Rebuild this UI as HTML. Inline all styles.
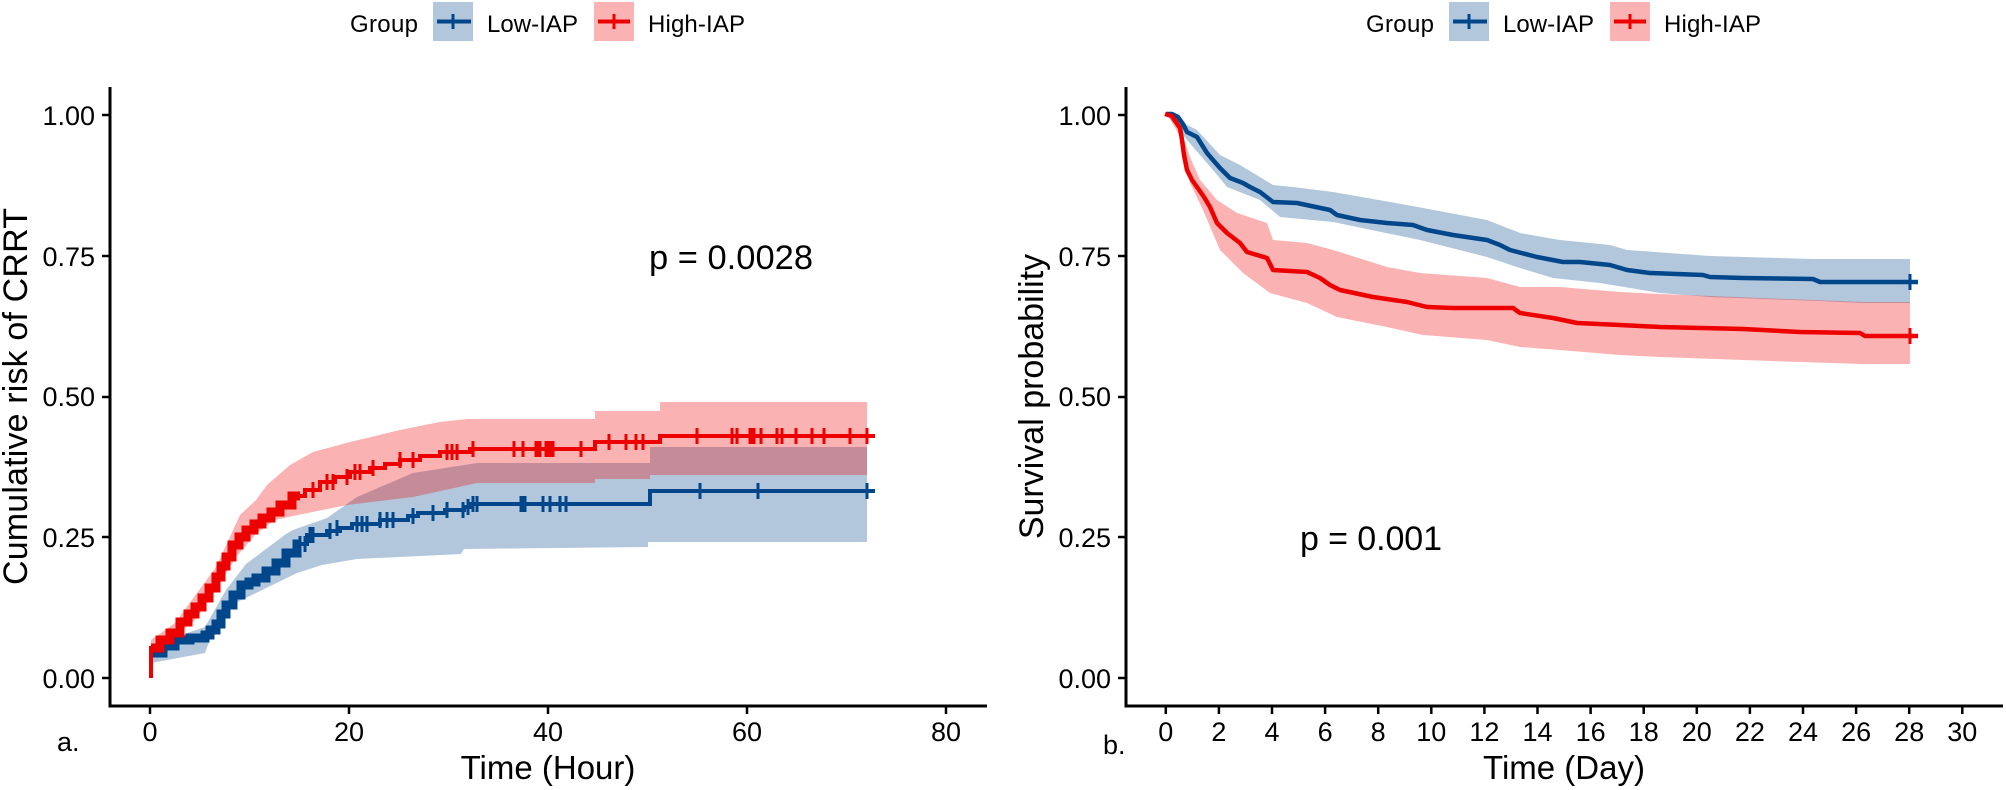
<!DOCTYPE html>
<html>
<head>
<meta charset="utf-8">
<style>
html,body{margin:0;padding:0;background:#fff;}
svg{display:block;}
text{font-family:"Liberation Sans",Arial,sans-serif;fill:#000;}
</style>
</head>
<body>
<svg width="2006" height="790" viewBox="0 0 2006 790" xmlns="http://www.w3.org/2000/svg">
<rect width="2006" height="790" fill="#fff"/>

<!-- ================= LEFT PANEL ================= -->
<!-- Legend -->
<g>
  <text x="350" y="32" font-size="24" textLength="68">Group</text>
  <rect x="433" y="2" width="40" height="39" fill="#00468B" fill-opacity="0.3"/>
  <line x1="437" y1="21.5" x2="471" y2="21.5" stroke="#00468B" stroke-width="4"/>
  <line x1="453" y1="14" x2="453" y2="29" stroke="#00468B" stroke-width="3"/>
  <text x="487" y="32" font-size="24" textLength="91">Low-IAP</text>
  <rect x="594" y="2" width="40" height="39" fill="#ED0000" fill-opacity="0.3"/>
  <line x1="598" y1="21.5" x2="630" y2="21.5" stroke="#ED0000" stroke-width="4"/>
  <line x1="614" y1="14" x2="614" y2="29" stroke="#ED0000" stroke-width="3"/>
  <text x="648" y="32" font-size="24" textLength="97">High-IAP</text>
</g>

<!-- ribbons -->
<polygon fill="#00468B" fill-opacity="0.3" points="151,645 205,627 226,590 246,564 286,534 293,530 327,518 357,497 413,473 477,463 650,463 650,447 867,447 867,542 648,542 648,547 464,549 461,554 357,559 322,565 297,573 256,593 221,610 205,653 151,663"/>
<polygon fill="#ED0000" fill-opacity="0.3" points="151,640 175,623 216,567 240,515 256,500 267,485 290,465 313,452 350,442 400,430 440,422 467,419 595,419 595,411 660,411 660,402 867,402 867,475 650,475 650,479 595,479 595,483 477,483 413,497 347,505 293,516 275,520 256,534 236,557 216,590 195,620 151,656"/>

<!-- lines -->
<path fill="none" stroke="#00468B" stroke-width="4" d="M151,660 V653 H163 V646 H175 V640 H190 V638 H205 V635 H210 V630 H216 V624 H221 V614 H226 V605 H233 V595 H241 V585 H249 V582 H256 V578 H266 V571 H276 V563 H286 V553 H297 V544 H307 V535 H327 V531 H340 V528 H352 V524 H380 V520 H408 V516 H418 V513 H445 V510 H464 V507 H470 V504 H650 V491 H875"/>
<path fill="none" stroke="#00468B" stroke-width="9" d="M151,653 H163 V646 H175 V640 H190 V638 H205 V635 H210 V630 H216 V624 H221 V614 H226 V605 H233 V595 H241 V585 H249 V582 H256 V578 H266 V571 H276 V563 H286 V553 H297 V544 H300"/>
<path fill="none" stroke="#ED0000" stroke-width="4" d="M151,678 V648 H160 V640 H170 V633 H180 V622 H188 V614 H195 V607 H202 V598 H209 V588 H216 V577 H221 V566 H226 V557 H232 V545 H239 V537 H246 V530 H254 V524 H262 V518 H271 V512 H280 V505 H292 V496 H305 V490 H320 V482 H335 V477 H350 V472 H370 V468 H385 V464 H400 V460 H420 V456 H440 V452 H470 V449 H595 V442 H660 V436 H875"/>
<path fill="none" stroke="#ED0000" stroke-width="9" d="M151,648 H160 V640 H170 V633 H180 V622 H188 V614 H195 V607 H202 V598 H209 V588 H216 V577 H221 V566 H226 V557 H232 V545 H239 V537 H246 V530 H254 V524 H262 V518 H271 V512 H280 V505 H292 V496 H300"/>

<!-- censor marks blue -->
<path fill="none" stroke="#00468B" stroke-width="3" d="
M300,536V552 M305,536V552 M310,527V543 M313,527V543 M330,523V539 M337,520V536 M357,516V532 M362,516V532 M367,516V532
M380,512V528 M387,512V528 M393,512V528 M413,508V524 M433,505V521 M447,502V518 M463,502V518 M468,499V515 M473,496V512 M477,496V512
M521,496V512 M523,496V512 M525,496V512 M543,496V512 M550,496V512 M560,496V512 M566,496V512
M700,483V499 M758,483V499 M867,483V499"/>
<!-- censor marks red -->
<path fill="none" stroke="#ED0000" stroke-width="3" d="
M313,482V498 M327,474V490 M333,474V490 M347,469V485 M355,464V480 M360,464V480 M373,460V476 M400,452V468 M413,452V468
M447,444V460 M452,444V460 M457,444V460 M473,441V457
M514,441V457 M523,441V457 M536,441V457 M538,441V457 M540,441V457 M546,441V457 M549,441V457 M551,441V457 M553,441V457 M581,441V457
M609,434V450 M626,434V450 M636,434V450 M643,434V450
M697,428V444 M732,428V444 M737,428V444 M750,428V444 M752,428V444 M754,428V444 M761,428V444 M777,428V444 M782,428V444 M796,428V444 M812,428V444 M824,428V444 M850,428V444 M867,428V444"/>

<!-- axes -->
<line x1="110" y1="87" x2="110" y2="707.5" stroke="#000" stroke-width="3"/>
<line x1="108.5" y1="706" x2="987" y2="706" stroke="#000" stroke-width="3"/>
<g stroke="#000" stroke-width="2.5">
  <line x1="102" y1="115" x2="110" y2="115"/>
  <line x1="102" y1="256" x2="110" y2="256"/>
  <line x1="102" y1="397" x2="110" y2="397"/>
  <line x1="102" y1="537" x2="110" y2="537"/>
  <line x1="102" y1="678" x2="110" y2="678"/>
  <line x1="150" y1="706" x2="150" y2="714"/>
  <line x1="349" y1="706" x2="349" y2="714"/>
  <line x1="548" y1="706" x2="548" y2="714"/>
  <line x1="747" y1="706" x2="747" y2="714"/>
  <line x1="946" y1="706" x2="946" y2="714"/>
</g>
<g font-size="27" text-anchor="end">
  <text x="95" y="125">1.00</text>
  <text x="95" y="266">0.75</text>
  <text x="95" y="406">0.50</text>
  <text x="95" y="547">0.25</text>
  <text x="95" y="688">0.00</text>
</g>
<g font-size="27" text-anchor="middle">
  <text x="150" y="741">0</text>
  <text x="349" y="741">20</text>
  <text x="548" y="741">40</text>
  <text x="747" y="741">60</text>
  <text x="946" y="741">80</text>
</g>
<text x="57" y="751" font-size="27">a.</text>
<text x="548" y="779" font-size="33" text-anchor="middle">Time (Hour)</text>
<text transform="translate(27,396.5) rotate(-90)" font-size="34" text-anchor="middle" textLength="377">Cumulative risk of CRRT</text>
<text x="649" y="269" font-size="34.5" textLength="164">p = 0.0028</text>

<!-- ================= RIGHT PANEL ================= -->
<g>
  <text x="1366" y="32" font-size="24" textLength="68">Group</text>
  <rect x="1449" y="2" width="40" height="39" fill="#00468B" fill-opacity="0.3"/>
  <line x1="1453" y1="21.5" x2="1487" y2="21.5" stroke="#00468B" stroke-width="4"/>
  <line x1="1469" y1="14" x2="1469" y2="29" stroke="#00468B" stroke-width="3"/>
  <text x="1503" y="32" font-size="24" textLength="91">Low-IAP</text>
  <rect x="1610" y="2" width="40" height="39" fill="#ED0000" fill-opacity="0.3"/>
  <line x1="1614" y1="21.5" x2="1646" y2="21.5" stroke="#ED0000" stroke-width="4"/>
  <line x1="1630" y1="14" x2="1630" y2="29" stroke="#ED0000" stroke-width="3"/>
  <text x="1664" y="32" font-size="24" textLength="97">High-IAP</text>
</g>

<!-- ribbons -->
<polygon fill="#00468B" fill-opacity="0.3" points="1166,114 1197,130 1220,155 1240,165 1273,185 1293,187 1333,192 1407,205 1487,220 1520,233 1560,240 1610,245 1627,250 1710,256 1813,259 1910,259 1910,303 1863,303 1820,301 1710,297 1660,293 1600,283 1553,278 1520,268 1487,257 1420,240 1333,222 1280,217 1260,200 1227,187 1213,170 1187,140 1166,114"/>
<polygon fill="#ED0000" fill-opacity="0.3" points="1167,114 1182,133 1190,157 1200,180 1217,200 1237,213 1267,223 1273,240 1307,243 1333,250 1387,267 1420,273 1487,278 1520,287 1560,287 1620,292 1660,294 1710,296 1863,302 1910,302 1910,364 1863,364 1800,362 1743,360 1660,357 1620,355 1560,350 1520,347 1487,340 1423,335 1387,327 1337,317 1307,303 1270,293 1243,273 1220,250 1203,210 1190,183 1182,140 1167,114"/>

<!-- lines -->
<polyline fill="none" stroke="#00468B" stroke-width="4.5" stroke-linejoin="round" points="1166,114 1172,114 1178,117 1183,124 1187,132 1197,137 1202,145 1207,153 1213,160 1220,168 1230,178 1243,183 1250,187 1260,192 1273,202 1297,203 1330,210 1337,215 1360,220 1387,223 1413,225 1427,230 1453,235 1487,240 1500,245 1510,250 1537,257 1563,262 1580,262 1610,265 1627,270 1650,273 1703,275 1710,277 1743,278 1813,279 1820,282 1918,282"/>
<polyline fill="none" stroke="#ED0000" stroke-width="4.5" stroke-linejoin="round" points="1165,114 1172,116 1180,128 1182,140 1184,155 1187,170 1192,180 1197,187 1204,197 1210,207 1217,223 1227,233 1240,243 1247,252 1267,258 1273,270 1307,272 1320,278 1330,285 1340,290 1373,297 1407,302 1427,307 1453,308 1513,308 1520,313 1553,318 1577,323 1620,325 1660,327 1743,329 1800,332 1860,333 1865,336 1918,336"/>
<line x1="1910" y1="274" x2="1910" y2="290" stroke="#00468B" stroke-width="3"/>
<line x1="1910" y1="328" x2="1910" y2="344" stroke="#ED0000" stroke-width="3"/>

<!-- axes -->
<line x1="1126" y1="87" x2="1126" y2="707.5" stroke="#000" stroke-width="3"/>
<line x1="1124.5" y1="706" x2="2003" y2="706" stroke="#000" stroke-width="3"/>
<g stroke="#000" stroke-width="2.5">
  <line x1="1118" y1="115" x2="1126" y2="115"/>
  <line x1="1118" y1="256" x2="1126" y2="256"/>
  <line x1="1118" y1="397" x2="1126" y2="397"/>
  <line x1="1118" y1="537" x2="1126" y2="537"/>
  <line x1="1118" y1="678" x2="1126" y2="678"/>
  <line x1="1165.8" y1="706" x2="1165.8" y2="714"/>
  <line x1="1218.9" y1="706" x2="1218.9" y2="714"/>
  <line x1="1272" y1="706" x2="1272" y2="714"/>
  <line x1="1325.1" y1="706" x2="1325.1" y2="714"/>
  <line x1="1378.2" y1="706" x2="1378.2" y2="714"/>
  <line x1="1431.3" y1="706" x2="1431.3" y2="714"/>
  <line x1="1484.4" y1="706" x2="1484.4" y2="714"/>
  <line x1="1537.5" y1="706" x2="1537.5" y2="714"/>
  <line x1="1590.6" y1="706" x2="1590.6" y2="714"/>
  <line x1="1643.7" y1="706" x2="1643.7" y2="714"/>
  <line x1="1696.8" y1="706" x2="1696.8" y2="714"/>
  <line x1="1749.9" y1="706" x2="1749.9" y2="714"/>
  <line x1="1803" y1="706" x2="1803" y2="714"/>
  <line x1="1856.1" y1="706" x2="1856.1" y2="714"/>
  <line x1="1909.2" y1="706" x2="1909.2" y2="714"/>
  <line x1="1962.3" y1="706" x2="1962.3" y2="714"/>
</g>
<g font-size="27" text-anchor="end">
  <text x="1111" y="125">1.00</text>
  <text x="1111" y="266">0.75</text>
  <text x="1111" y="406">0.50</text>
  <text x="1111" y="547">0.25</text>
  <text x="1111" y="688">0.00</text>
</g>
<g font-size="27" text-anchor="middle">
  <text x="1165.8" y="741">0</text>
  <text x="1218.9" y="741">2</text>
  <text x="1272" y="741">4</text>
  <text x="1325.1" y="741">6</text>
  <text x="1378.2" y="741">8</text>
  <text x="1431.3" y="741">10</text>
  <text x="1484.4" y="741">12</text>
  <text x="1537.5" y="741">14</text>
  <text x="1590.6" y="741">16</text>
  <text x="1643.7" y="741">18</text>
  <text x="1696.8" y="741">20</text>
  <text x="1749.9" y="741">22</text>
  <text x="1803" y="741">24</text>
  <text x="1856.1" y="741">26</text>
  <text x="1909.2" y="741">28</text>
  <text x="1962.3" y="741">30</text>
</g>
<text x="1103" y="754" font-size="27">b.</text>
<text x="1564" y="779" font-size="33" text-anchor="middle">Time (Day)</text>
<text transform="translate(1043,396.5) rotate(-90)" font-size="34" text-anchor="middle">Survival probability</text>
<text x="1300" y="550" font-size="34" textLength="142">p = 0.001</text>
</svg>
</body>
</html>
